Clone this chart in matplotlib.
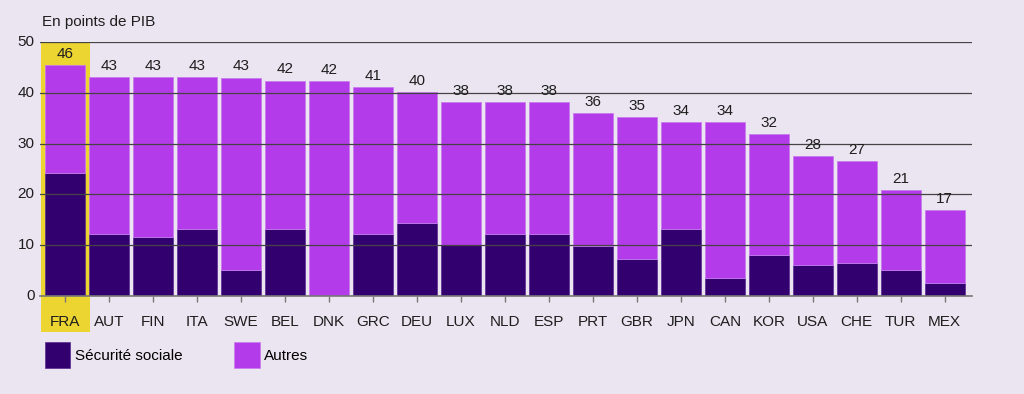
import matplotlib.pyplot as plt
from matplotlib.patches import Rectangle, Patch

plt.rcParams['font.family'] = ['Liberation Sans', 'DejaVu Sans']

pays = ["FRA", "AUT", "FIN", "ITA", "SWE", "BEL", "DNK", "GRC", "DEU", "LUX", "NLD",
        "ESP", "PRT", "GBR", "JPN", "CAN", "KOR", "USA", "CHE", "TUR", "MEX"]
total = [45.5, 43.1, 43.1, 43.1, 43.0, 42.4, 42.3, 41.1, 40.2, 38.2, 38.2,
         38.2, 36.0, 35.2, 34.3, 34.3, 31.9, 27.6, 26.5, 20.9, 16.9]
secu = [24.3, 12.2, 11.6, 13.1, 5.1, 13.2, 0.0, 12.2, 14.4, 10.1, 12.2,
        12.2, 9.9, 7.2, 13.1, 3.5, 8.0, 6.1, 6.5, 5.1, 2.6]
etiquettes = [46, 43, 43, 43, 43, 42, 42, 41, 40, 38, 38, 38, 36, 35, 34, 34, 32, 28, 27, 21, 17]
autres = [t - s for t, s in zip(total, secu)]

bg = "#ebe5f1"
c_secu = "#33006f"
c_autres = "#b33be9"
c_jaune = "#ecd431"
c_texte = "#1e1e1e"
fs = 11

fig = plt.figure(figsize=(10.24, 3.94), dpi=100)
fig.patch.set_facecolor(bg)
ax = fig.add_axes([40 / 1024, 1 - 296 / 394, 932 / 1024, 254 / 394])
ax.set_facecolor(bg)

x = list(range(len(pays)))

# FRA en surbrillance
ax.add_patch(Rectangle((-0.557, -7.1), 1.114, 57.1, facecolor=c_jaune,
                       edgecolor="none", clip_on=False, zorder=0))

ax.bar(x, secu, width=0.9, color=c_secu, edgecolor="#5a2a90", linewidth=0.5, zorder=2)
ax.bar(x, autres, bottom=secu, width=0.9, color=c_autres, edgecolor="#c77cee",
       linewidth=0.6, zorder=2)

for xi, t, lab in zip(x, total, etiquettes):
    ax.annotate(str(lab), (xi, t), xytext=(0, 3), textcoords="offset points",
                ha="center", va="bottom", fontsize=fs, color=c_texte, zorder=4)

ax.set_xlim(-0.57, 20.62)
ax.set_ylim(0, 50)
ax.set_yticks([0, 10, 20, 30, 40, 50])
ax.yaxis.grid(True, color="#444444", linewidth=0.9, zorder=3)
ax.set_axisbelow(False)
for s in ["top", "right", "left"]:
    ax.spines[s].set_visible(False)
ax.spines["bottom"].set_color("#777777")
ax.spines["bottom"].set_linewidth(1.2)
ax.spines["bottom"].set_zorder(3)

ax.set_xticks(x)
ax.set_xticklabels(pays)
ax.tick_params(axis="x", length=4.5, width=1, color="#777777", pad=9.5,
               labelsize=fs, labelcolor=c_texte)
ax.tick_params(axis="y", length=0, pad=4, labelsize=fs, labelcolor=c_texte)
for lab in ax.get_yticklabels():
    lab.set_verticalalignment("center")

fig.text(42 / 1024, 1 - 22 / 394, "En points de PIB", fontsize=fs, color=c_texte,
         ha="left", va="center")

handles = [Patch(facecolor=c_secu, edgecolor="#5a2a90", linewidth=0.5, label="Sécurité sociale"),
           Patch(facecolor=c_autres, edgecolor="#c77cee", linewidth=0.5, label="Autres")]
fig.legend(handles=handles, loc="center left", bbox_to_anchor=(45 / 1024, 1 - 355 / 394),
           ncol=2, frameon=False, fontsize=fs, handlelength=1.65, handleheight=2.3,
           handletextpad=0.3, columnspacing=3.4, borderaxespad=0, borderpad=0)

fig.savefig("out.png", dpi=100, facecolor=bg)
